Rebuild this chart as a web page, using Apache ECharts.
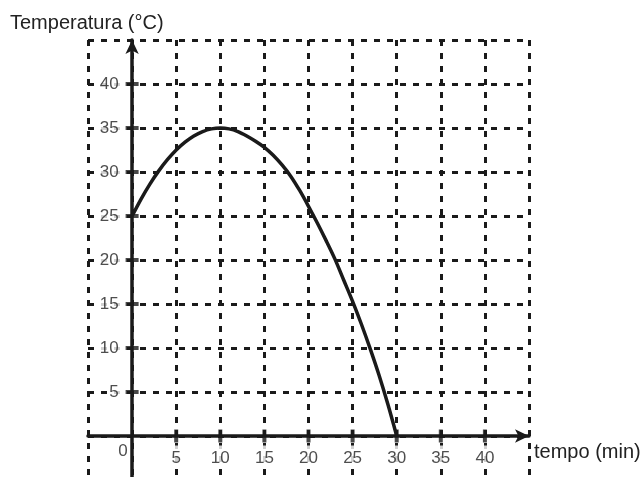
<!DOCTYPE html>
<html><head><meta charset="utf-8">
<script src="https://cdn.jsdelivr.net/npm/echarts@6/dist/echarts.min.js"></script>
<style>html,body{margin:0;padding:0;background:#fff}#c{width:644px;height:477px}</style>
</head><body><div id="c"></div>
<script>
// data
const tempoMin = [0, 1, 2, 3, 4, 5, 6, 7, 8, 9, 10, 11, 12, 13, 14, 15, 16, 17, 18, 19, 20, 21, 22, 23, 24, 25, 26, 27, 28, 29, 30];
const temperatura = [25, 26.9, 28.6, 30.1, 31.4, 32.5, 33.4, 34.1, 34.6, 34.9, 35, 34.9, 34.6, 34.1, 33.5, 32.8, 31.9, 30.8, 29.5, 27.9, 26.1, 24.2, 22.2, 20.1, 17.7, 15.3, 12.7, 9.9, 6.9, 3.6, 0];
const xTicks = [5, 10, 15, 20, 25, 30, 35, 40];
const yTicks = [5, 10, 15, 20, 25, 30, 35, 40];
const yTitle = 'Temperatura (°C)';
const xTitle = 'tempo (min)';

const ink = '#1a1a1a';
const font = 'Liberation Sans, Arial, sans-serif';
const lbl = { fontFamily: font, fontSize: 17, color: '#222', backgroundColor: '#fff' };
const chart = echarts.init(document.getElementById('c'));
const dashed = { type: [6, 7], width: 3, color: ink };
chart.setOption({
  animation: false,
  title: { text: yTitle, left: 10, top: 13, padding: 0, textStyle: { fontFamily: font, fontSize: 20, fontWeight: 'normal', color: '#222' } },
  grid: { left: 88, right: 115, top: 40, bottom: -3, outerBoundsMode: 'none', containLabel: false },
  xAxis: {
    type: 'value', min: -5, max: 45, interval: 5,
    name: xTitle, nameLocation: 'end', nameGap: 5,
    nameTextStyle: { fontFamily: font, fontSize: 20, color: '#222', verticalAlign: 'top', padding: [6, 0, 0, 0] },
    axisLine: { onZero: true, lineStyle: { color: ink, width: 3.5 }, symbol: ['none', 'arrow'], symbolSize: [10, 14] },
    axisTick: { show: false },
    axisLabel: { show: false },
    splitLine: { show: true, lineStyle: dashed }
  },
  yAxis: {
    type: 'value', min: -5, max: 45, interval: 5,
    axisLine: { onZero: true, lineStyle: { color: ink, width: 3.5 }, symbol: ['none', 'arrow'], symbolSize: [10, 14] },
    axisTick: { show: false },
    axisLabel: { show: false },
    splitLine: { show: true, lineStyle: dashed }
  },
  series: [
    { type: 'scatter', symbol: 'rect', symbolSize: [4, 13], silent: true, z: 5,
      itemStyle: { color: ink }, data: xTicks.map(v => [v, 0]),
      label: Object.assign({ show: true, position: 'bottom', distance: 3, padding: [4, 1, 1, 1], formatter: p => String(p.value[0]) }, lbl) },
    { type: 'scatter', symbol: 'rect', symbolSize: [13, 4], silent: true, z: 5,
      itemStyle: { color: ink }, data: yTicks.map(v => [0, v]),
      label: Object.assign({ show: true, position: 'left', distance: 2, padding: [1, 5, 1, 2], formatter: p => String(p.value[1]) }, lbl) },
    { type: 'scatter', symbolSize: 0, silent: true, data: [[0, 0]],
      label: Object.assign({}, lbl, { show: true, formatter: '0', position: 'inside', offset: [-9, 15], backgroundColor: 'transparent' }) },
    { type: 'line', smooth: 0.3, showSymbol: false, z: 6,
      lineStyle: { color: ink, width: 3.5 },
      data: tempoMin.map((t, i) => [t, temperatura[i]]) }
  ]
});
</script></body></html>
